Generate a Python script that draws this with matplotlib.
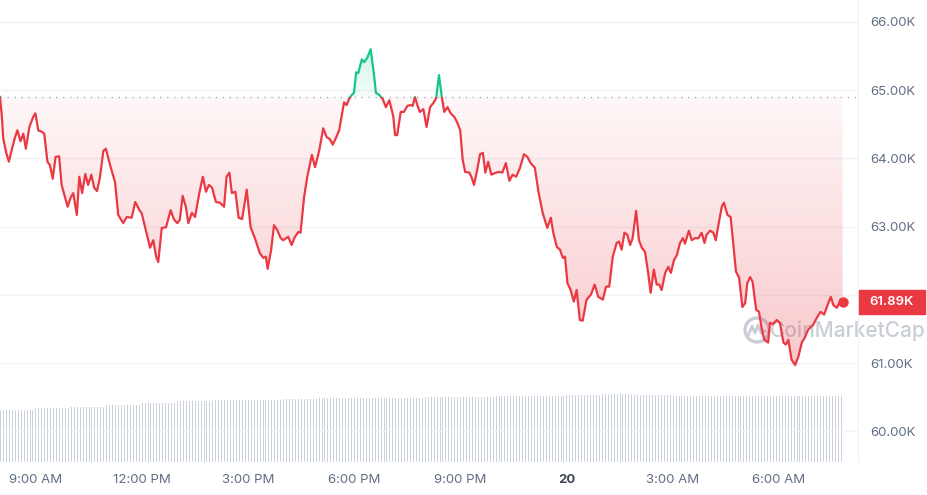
import numpy as np
import matplotlib.pyplot as plt
import matplotlib.colors as mcolors
from matplotlib.patches import Rectangle, Circle
from matplotlib.path import Path

plt.rcParams['font.family'] = ['Inter', 'DejaVu Sans']

# time in hours from midnight of the 19th (values past 24 fall on the 20th)
hours = [
    8.00, 8.05, 8.09, 8.17, 8.25, 8.33, 8.42, 8.49, 8.58, 8.66, 8.73, 8.83, 8.94, 9.00,
    9.08, 9.18, 9.25, 9.34, 9.41, 9.49, 9.57, 9.67, 9.74, 9.84, 9.91, 10.00, 10.07, 10.17,
    10.24, 10.32, 10.41, 10.49, 10.58, 10.66, 10.74, 10.82, 10.92, 10.99, 11.11, 11.25,
    11.34, 11.48, 11.58, 11.72, 11.82, 11.94, 12.00, 12.10, 12.14, 12.24, 12.33, 12.41,
    12.47, 12.57, 12.69, 12.82, 12.92, 13.01, 13.08, 13.16, 13.25, 13.32, 13.42, 13.51,
    13.63, 13.73, 13.82, 13.90, 13.99, 14.10, 14.21, 14.33, 14.40, 14.48, 14.55, 14.65,
    14.74, 14.84, 14.97, 15.08, 15.20, 15.34, 15.44, 15.51, 15.56, 15.66, 15.74, 15.83,
    15.93, 16.00, 16.14, 16.24, 16.33, 16.43, 16.49, 16.59, 16.68, 16.81, 16.90, 17.02,
    17.13, 17.23, 17.32, 17.40, 17.49, 17.58, 17.72, 17.79, 17.87, 17.94, 18.00, 18.06,
    18.12, 18.22, 18.29, 18.38, 18.47, 18.55, 18.62, 18.71, 18.81, 18.90, 19.00, 19.11,
    19.16, 19.22, 19.32, 19.41, 19.51, 19.60, 19.66, 19.72, 19.79, 19.86, 19.96, 20.05,
    20.15, 20.24, 20.32, 20.40, 20.48, 20.55, 20.64, 20.73, 20.83, 20.92, 21.00, 21.07,
    21.14, 21.26, 21.33, 21.39, 21.48, 21.56, 21.64, 21.71, 21.79, 21.88, 22.01, 22.12,
    22.19, 22.29, 22.39, 22.48, 22.58, 22.69, 22.80, 22.90, 22.99, 23.11, 23.21, 23.33,
    23.46, 23.56, 23.63, 23.73, 23.82, 23.90, 23.96, 24.03, 24.12, 24.21, 24.29, 24.38,
    24.46, 24.57, 24.69, 24.80, 24.90, 25.03, 25.12, 25.21, 25.31, 25.42, 25.49, 25.56,
    25.64, 25.72, 25.80, 25.87, 25.97, 26.05, 26.13, 26.22, 26.31, 26.38, 26.47, 26.55,
    26.62, 26.69, 26.79, 26.88, 26.95, 27.04, 27.12, 27.21, 27.29, 27.35, 27.46, 27.54,
    27.63, 27.73, 27.82, 27.90, 27.96, 28.06, 28.15, 28.22, 28.31, 28.39, 28.45, 28.55,
    28.64, 28.71, 28.79, 28.88, 28.97, 29.05, 29.11, 29.19, 29.26, 29.36, 29.44, 29.52,
    29.59, 29.70, 29.75, 29.83, 29.94, 30.03, 30.13, 30.20, 30.27, 30.36, 30.46, 30.55,
    30.65, 30.74, 30.83, 30.97, 31.07, 31.18, 31.28, 31.40, 31.47, 31.54, 31.64, 31.71,
    31.80,
]

# BTC price, thousands of USD
prices = [
    64.90, 64.63, 64.30, 64.09, 63.95, 64.12, 64.30, 64.41, 64.25, 64.36, 64.14, 64.46, 64.61, 64.66,
    64.41, 64.39, 64.36, 63.95, 63.90, 63.70, 64.02, 64.03, 63.61, 63.42, 63.29, 63.43, 63.49, 63.17,
    63.73, 63.49, 63.77, 63.61, 63.76, 63.57, 63.52, 63.71, 64.11, 64.14, 63.90, 63.65,
    63.17, 63.05, 63.14, 63.13, 63.36, 63.24, 63.20, 62.99, 62.91, 62.69, 62.80, 62.56,
    62.48, 62.98, 62.99, 63.24, 63.10, 63.05, 63.10, 63.45, 63.29, 63.05, 63.20, 63.14,
    63.49, 63.73, 63.51, 63.61, 63.57, 63.36, 63.35, 63.29, 63.73, 63.79, 63.49, 63.51,
    63.13, 63.11, 63.54, 62.99, 62.83, 62.61, 62.54, 62.56, 62.38, 62.66, 63.02, 62.95,
    62.83, 62.80, 62.85, 62.73, 62.85, 62.92, 62.91, 63.43, 63.73, 64.05, 63.87, 64.12,
    64.44, 64.31, 64.28, 64.20, 64.30, 64.41, 64.82, 64.78, 64.88, 64.93, 64.96, 65.26,
    65.25, 65.45, 65.41, 65.48, 65.60, 65.29, 64.96, 64.93, 64.87, 64.75, 64.85, 64.61,
    64.34, 64.34, 64.68, 64.68, 64.77, 64.78, 64.77, 64.90, 64.78, 64.68, 64.72, 64.46,
    64.75, 64.81, 64.88, 65.22, 64.90, 64.68, 64.75, 64.66, 64.61, 64.52, 64.41, 63.98,
    63.80, 63.79, 63.71, 63.61, 63.83, 64.06, 64.08, 63.79, 63.95, 63.76, 63.79, 63.80,
    63.79, 63.93, 63.67, 63.76, 63.73, 63.86, 64.06, 64.02, 63.93, 63.86, 63.51, 63.20,
    62.98, 63.13, 62.91, 62.70, 62.66, 62.54, 62.56, 62.17, 62.07, 61.90, 62.07, 61.63,
    61.62, 61.93, 62.00, 62.15, 61.97, 61.93, 62.12, 62.12, 62.56, 62.76, 62.78, 62.66,
    62.91, 62.88, 62.73, 62.83, 63.23, 62.80, 62.69, 62.63, 62.32, 62.03, 62.37, 62.15,
    62.15, 62.07, 62.32, 62.41, 62.32, 62.51, 62.58, 62.76, 62.83, 62.75, 62.94, 62.80,
    62.83, 62.83, 62.91, 62.76, 62.88, 62.94, 62.91, 62.80, 63.07, 63.29, 63.35, 63.17,
    63.14, 62.76, 62.34, 62.25, 61.82, 61.88, 62.17, 62.26, 62.19, 61.78, 61.75, 61.49,
    61.34, 61.30, 61.59, 61.57, 61.63, 61.59, 61.30, 61.27, 61.34, 61.05, 60.97, 61.09,
    61.30, 61.38, 61.49, 61.56, 61.66, 61.75, 61.71, 61.88, 61.97, 61.85, 61.81, 61.88,
    61.89,
]
open_price = 64.90

# 24h volume (billions USD), read once per hour starting 8:00
vol_hourly = [26.4, 27.2, 28.0, 28.9, 30.0, 30.8, 31.3, 31.6, 31.9, 32.2, 32.4, 32.6,
              32.7, 32.9, 33.2, 33.4, 34.0, 34.4, 33.7, 33.5, 33.4, 33.3, 33.2, 33.2]

tick_hours = [9, 12, 15, 18, 21, 24, 27, 30]
tick_labels = ['9:00 AM', '12:00 PM', '3:00 PM', '6:00 PM', '9:00 PM', '20', '3:00 AM', '6:00 AM']
price_ticks = [60, 61, 62, 63, 64, 65, 66]

RED = '#ea3943'
GREEN = '#16c784'
GRAY_TXT = '#616e85'

W, H = 928, 495
fig = plt.figure(figsize=(W / 100, H / 100), dpi=100)
fig.patch.set_facecolor('white')

plot_right = 858
plot_bottom = 462
rect = [0, (H - plot_bottom) / H, plot_right / W, plot_bottom / H]
xlim = (8.0, 8.0 + plot_right / 35.4)
ylim = (59.55, 66.32)

# watermark sits behind everything else
back = fig.add_axes([0, 0, 1, 1])
back.set_xlim(0, W)
back.set_ylim(H, 0)
back.axis('off')
wm = '#c9ced6'
back.add_patch(Circle((757, 330), 12, fill=False, edgecolor=wm, lw=2.4))
back.plot([748, 752, 755, 758, 761, 765], [336, 326, 333, 325, 333, 331], color=wm, lw=2)
back.text(770, 331, 'CoinMarketCap', fontsize=15, color=wm, va='center', ha='left',
          fontweight='medium')

# volume bars behind the price axes
vax = fig.add_axes(rect)
bar_t = 8.0 + np.arange(len(vol_hourly) * 12) / 12
bar_v = np.repeat(vol_hourly, 12)
keep = bar_t <= hours[-1]
vax.vlines(bar_t[keep], 0, bar_v[keep], color='#cbd2db', lw=0.5, antialiased=False)
vax.set_xlim(*xlim)
vax.set_ylim(0, max(vol_hourly) * plot_bottom / 68)
vax.axis('off')

ax = fig.add_axes(rect)
ax.patch.set_alpha(0)
ax.set_xlim(*xlim)
ax.set_ylim(*ylim)

x = np.array(hours)
y = np.array(prices)


def gradient_fill(ax, x, y, base, color, far, a_base, a_far, below):
    if below:
        coll = ax.fill_between(x, y, base, where=y <= base, interpolate=True,
                               facecolor='none', edgecolor='none')
        lo, hi = far, base
        alphas = np.linspace(a_base, a_far, 256)
    else:
        coll = ax.fill_between(x, y, base, where=y >= base, interpolate=True,
                               facecolor='none', edgecolor='none')
        lo, hi = base, far
        alphas = np.linspace(a_far, a_base, 256)
    path = Path.make_compound_path(*coll.get_paths())
    img = np.zeros((256, 1, 4))
    img[..., :3] = mcolors.to_rgb(color)
    img[:, 0, 3] = alphas
    im = ax.imshow(img, aspect='auto', extent=[x[0], x[-1], lo, hi],
                   origin='upper', zorder=1, interpolation='bilinear')
    im.set_clip_path(path, transform=ax.transData)


gradient_fill(ax, x, y, open_price, RED, 60.9, 0.04, 0.28, below=True)
gradient_fill(ax, x, y, open_price, GREEN, 65.65, 0.04, 0.22, below=False)
ax.set_xlim(*xlim)
ax.set_ylim(*ylim)

# price line, red under the open price and green above it
for color, lo, hi in [(RED, ylim[0], open_price), (GREEN, open_price, ylim[1])]:
    ln, = ax.plot(x, y, color=color, lw=1.6, solid_joinstyle='round', zorder=3)
    clip = Rectangle((xlim[0], lo), xlim[1] - xlim[0], hi - lo, transform=ax.transData)
    ln.set_clip_path(clip)

ax.axhline(open_price, color='#a7afbd', lw=1, linestyle=(0, (1, 4)), zorder=2)
ax.plot(x[-1], y[-1], 'o', color=RED, markersize=6.5, zorder=4)

ax.set_yticks(price_ticks)
ax.set_yticklabels([f'{v:.2f}K' for v in price_ticks])
ax.yaxis.tick_right()
ax.set_xticks(tick_hours)
ax.set_xticklabels(tick_labels)
ax.tick_params(axis='both', length=0, labelsize=9.5, labelcolor=GRAY_TXT)
ax.tick_params(axis='y', pad=8.5)
ax.tick_params(axis='x', pad=8.5)
for lbl in ax.get_xticklabels():
    if lbl.get_text() == '20':
        lbl.set_fontweight('bold')
        lbl.set_color('#3d4350')

ax.grid(axis='y', color='#f1f3f6', lw=1)
ax.set_axisbelow(True)
for side in ['top', 'left', 'bottom']:
    ax.spines[side].set_visible(False)
ax.spines['right'].set_color('#eff2f5')

# price tag over the right axis, covering the label it sits on as in the source
front = fig.add_axes([0, 0, 1, 1])
front.set_xlim(0, W)
front.set_ylim(H, 0)
front.axis('off')
tag_y = H - ax.transData.transform((x[-1], y[-1]))[1]
front.add_patch(Rectangle((859, tag_y - 12), 66, 24, color=RED, zorder=5))
front.text(892, tag_y, f'{prices[-1]:.2f}K', color='white', fontsize=9.5, fontweight='semibold',
           ha='center', va='center', zorder=6)

fig.savefig('out.png', dpi=100)
